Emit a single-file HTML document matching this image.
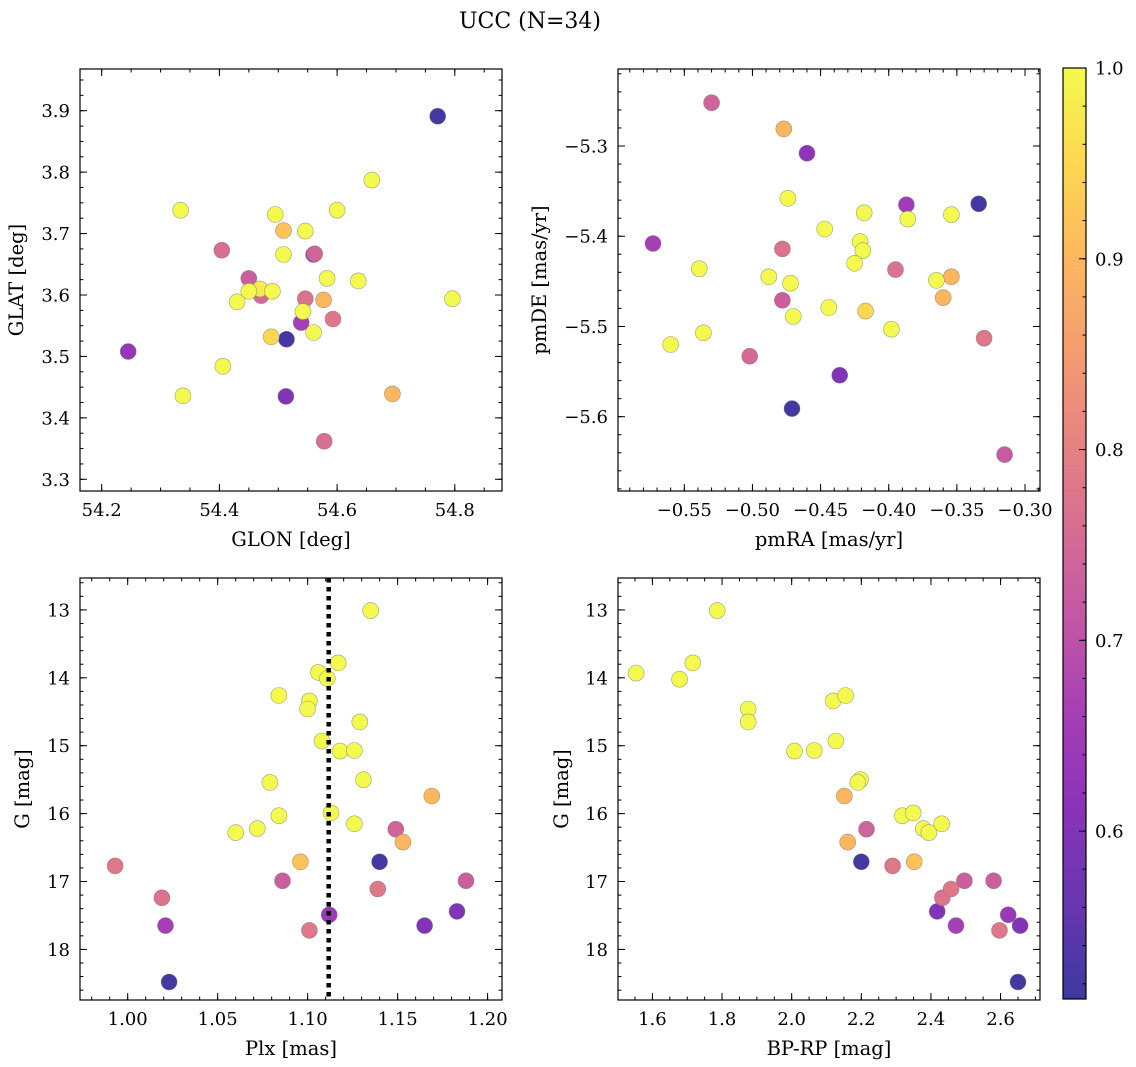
<!DOCTYPE html>
<html><head><meta charset="utf-8">
<style>
html,body{margin:0;padding:0;background:#fff;}
svg{display:block;font-family:"DejaVu Serif","Liberation Serif",serif;}
</style></head>
<body>
<svg id="fig" width="1136" height="1067" viewBox="0 0 1136 1067" xmlns="http://www.w3.org/2000/svg">
<text x="530" y="28" font-size="22" text-anchor="middle">UCC (N=34)</text>
</svg>
<script>
// ---- data (per panel) ----
const tlGlon=[54.771,54.245,54.334,54.338,54.404,54.406,54.430,54.450,54.450,54.469,54.471,54.490,54.488,54.495,54.509,54.509,54.514,54.513,54.539,54.542,54.546,54.546,54.560,54.560,54.562,54.577,54.578,54.583,54.593,54.600,54.636,54.659,54.694,54.796];
const tlGlat=[3.891,3.508,3.738,3.436,3.673,3.484,3.589,3.627,3.606,3.610,3.599,3.606,3.532,3.731,3.705,3.666,3.528,3.435,3.555,3.573,3.704,3.594,3.539,3.666,3.667,3.592,3.362,3.627,3.561,3.738,3.623,3.787,3.439,3.594];
const tlProb=[0.52,0.63,1,1,0.76,1,1,0.73,1,0.98,0.75,1,0.95,1,0.92,1,0.52,0.6,0.66,1,1,0.77,1,0.62,0.74,0.9,0.76,1,0.78,1,1,1,0.9,1];

const trPmra=[-0.530,-0.477,-0.460,-0.474,-0.387,-0.334,-0.418,-0.386,-0.354,-0.447,-0.573,-0.421,-0.419,-0.478,-0.425,-0.539,-0.395,-0.488,-0.472,-0.365,-0.354,-0.360,-0.478,-0.444,-0.417,-0.470,-0.398,-0.536,-0.560,-0.330,-0.502,-0.436,-0.471,-0.315];
const trPmde=[-5.252,-5.281,-5.308,-5.358,-5.365,-5.364,-5.374,-5.381,-5.376,-5.392,-5.408,-5.406,-5.416,-5.414,-5.430,-5.436,-5.437,-5.445,-5.452,-5.449,-5.445,-5.468,-5.471,-5.479,-5.483,-5.489,-5.503,-5.507,-5.520,-5.513,-5.533,-5.554,-5.591,-5.642];
const trProb=[0.74,0.9,0.62,1,0.65,0.52,1,1,1,1,0.66,1,1,0.77,1,1,0.77,1,1,1,0.9,0.9,0.73,1,0.95,1,1,1,1,0.78,0.75,0.6,0.52,0.72];

const blPlx=[1.135,1.117,1.106,1.111,1.084,1.101,1.100,1.129,1.108,1.118,1.126,1.079,1.131,1.169,1.113,1.084,1.126,1.072,1.060,1.149,1.153,1.096,1.140,0.993,1.086,1.188,1.139,1.019,1.112,1.183,1.021,1.165,1.101,1.023];
const blG=[13.01,13.78,13.92,14.01,14.26,14.34,14.46,14.65,14.93,15.08,15.07,15.54,15.50,15.74,15.99,16.03,16.15,16.22,16.28,16.23,16.42,16.71,16.71,16.77,16.99,16.99,17.11,17.24,17.49,17.44,17.65,17.65,17.72,18.48];
const blProb=[1,1,1,1,1,1,1,1,1,1,1,1,1,0.9,1,1,1,1,1,0.74,0.9,0.92,0.52,0.78,0.73,0.73,0.78,0.77,0.64,0.6,0.66,0.6,0.78,0.52];
const plxMedian=1.1117;

const brBprp=[1.553,1.678,1.716,1.786,1.875,1.875,2.008,2.065,2.119,2.155,2.127,2.198,2.190,2.151,2.161,2.215,2.200,2.290,2.318,2.349,2.352,2.378,2.394,2.431,2.458,2.433,2.496,2.418,2.472,2.580,2.597,2.622,2.656,2.650];
const brG=[13.93,14.02,13.78,13.01,14.46,14.65,15.08,15.07,14.34,14.26,14.93,15.50,15.54,15.74,16.42,16.23,16.71,16.77,16.03,15.99,16.71,16.22,16.28,16.15,17.11,17.24,16.99,17.44,17.65,16.99,17.72,17.49,17.65,18.48];
const brProb=[1,1,1,1,1,1,1,1,1,1,1,1,1,0.9,0.9,0.74,0.52,0.78,1,1,0.92,1,1,1,0.78,0.77,0.73,0.6,0.66,0.73,0.78,0.64,0.6,0.52];

const cbTicks=[0.6,0.7,0.8,0.9,1.0];
const VMIN=0.512, VMAX=1.0;

// ---- helpers ----
const NS="http://www.w3.org/2000/svg";
const svg=document.getElementById('fig');
function mk(tag,attrs,parent){const e=document.createElementNS(NS,tag);for(const k in attrs)e.setAttribute(k,attrs[k]);(parent||svg).appendChild(e);return e;}
const PL=[[13,8,135],[65,4,157],[106,0,168],[143,13,164],[177,42,144],[204,71,120],[225,100,98],[242,132,75],[252,166,54],[252,206,37],[240,249,33]];
function plasma(t){t=Math.max(0,Math.min(1,t));const f=t*10,i=Math.min(9,Math.floor(f)),r=f-i;const a=PL[i],b=PL[i+1];return [0,1,2].map(k=>a[k]+(b[k]-a[k])*r);}
function col(p){const c=plasma((p-VMIN)/(VMAX-VMIN));return 'rgb('+c.map(v=>Math.round(v*0.8+255*0.2)).join(',')+')';}
function fmt(v,d){return (v<0?'\u2212':'')+Math.abs(v).toFixed(d);}

function panel(o){
  const g=mk('g',{});
  
  
  const sx=v=>o.x0+(v-o.xmin)/(o.xmax-o.xmin)*(o.x1-o.x0);
  const sy=v=>o.invert? o.y0+(v-o.ymin)/(o.ymax-o.ymin)*(o.y1-o.y0) : o.y1-(v-o.ymin)/(o.ymax-o.ymin)*(o.y1-o.y0);
  const idx=o.xs.map((_,i)=>i).sort((a,b)=>o.ps[a]-o.ps[b]);
  const pg=mk('g',{},g);
  
  
  idx.forEach(i=>{
    const c=mk('circle',{cx:sx(o.xs[i]).toFixed(1),cy:sy(o.ys[i]).toFixed(1),r:8,fill:col(o.ps[i]),stroke:'rgba(120,120,120,0.7)','stroke-width':0.6},pg);
    
    
  });
  if(o.vline!==undefined){
    const l=mk('line',{x1:sx(o.vline),x2:sx(o.vline),y1:o.y0,y2:o.y1,stroke:'#000','stroke-width':4.5,'stroke-dasharray':'4.5 4.5'},g);
    
    
  }
  const tg=mk('g',{stroke:'#000','stroke-width':1},g);
  
  
  const eps=1e-9;
  function ticks(min,max,step){const a=[];for(let v=Math.ceil(min/step-eps)*step;v<=max+eps;v+=step)a.push(Math.round(v/step)*step);return a;}
  ticks(o.xmin,o.xmax,o.xminor).forEach(v=>{const X=sx(v);mk('line',{x1:X,x2:X,y1:o.y1,y2:o.y1-3.5},tg);mk('line',{x1:X,x2:X,y1:o.y0,y2:o.y0+3.5},tg);});
  ticks(o.ymin,o.ymax,o.yminor).forEach(v=>{const Y=sy(v);mk('line',{x1:o.x0,x2:o.x0+3.5,y1:Y,y2:Y},tg);mk('line',{x1:o.x1,x2:o.x1-3.5,y1:Y,y2:Y},tg);});
  ticks(o.xmin,o.xmax,o.xmajor).forEach(v=>{const X=sx(v);mk('line',{x1:X,x2:X,y1:o.y1,y2:o.y1-7},tg);mk('line',{x1:X,x2:X,y1:o.y0,y2:o.y0+7},tg);
    const t=mk('text',{x:X,y:o.y1+25,'font-size':18,'text-anchor':'middle'},g);t.textContent=fmt(v,o.xdec);
    });
  ticks(o.ymin,o.ymax,o.ymajor).forEach(v=>{const Y=sy(v);mk('line',{x1:o.x0,x2:o.x0+7,y1:Y,y2:Y},tg);mk('line',{x1:o.x1,x2:o.x1-7,y1:Y,y2:Y},tg);
    const t=mk('text',{x:o.x0-10,y:Y+6.5,'font-size':18,'text-anchor':'end'},g);t.textContent=fmt(v,o.ydec);
    });
  const fr=mk('rect',{x:o.x0,y:o.y0,width:o.x1-o.x0,height:o.y1-o.y0,fill:'none',stroke:'#000','stroke-width':1.2},g);
  
  const xl=mk('text',{x:(o.x0+o.x1)/2,y:o.y1+55,'font-size':19.5,'text-anchor':'middle'},g);xl.textContent=o.xlabel;
  
  const cy=(o.y0+o.y1)/2;
  const yl=mk('text',{x:o.ylx,y:cy,'font-size':19.5,'text-anchor':'middle',transform:'rotate(-90 '+o.ylx+' '+cy+')'},g);yl.textContent=o.ylabel;
  
}

panel({name:'glon-glat-panel',x0:80,x1:502,y0:69,y1:491,xmin:54.2-21.7/588.5,xmax:54.2+400.3/588.5,ymin:3.3-11.7/614.3,ymax:3.9+41.7/614.3,
  xs:tlGlon,ys:tlGlat,ps:tlProb,xmajor:0.2,xminor:0.05,ymajor:0.1,yminor:0.025,xdec:1,ydec:1,xlabel:'GLON [deg]',ylabel:'GLAT [deg]',ylx:23});
panel({name:'pm-panel',x0:618,x1:1040,y0:69,y1:491,xmin:-0.55-66.3/1362.8,xmax:-0.30+15/1362.8,ymin:-5.6-74.3/902.2,ymax:-5.3+77/902.2,
  xs:trPmra,ys:trPmde,ps:trProb,xmajor:0.05,xminor:0.01,ymajor:0.1,yminor:0.02,xdec:2,ydec:1,xlabel:'pmRA [mas/yr]',ylabel:'pmDE [mas/yr]',ylx:546});
panel({name:'plx-g-panel',x0:80,x1:502,y0:578,y1:1000,xmin:0.9735,xmax:1.208,ymin:12.53,ymax:18.745,invert:true,vline:plxMedian,
  xs:blPlx,ys:blG,ps:blProb,xmajor:0.05,xminor:0.01,ymajor:1,yminor:0.2,xdec:2,ydec:0,xlabel:'Plx [mas]',ylabel:'G [mag]',ylx:29});
panel({name:'cmd-panel',x0:618,x1:1040,y0:578,y1:1000,xmin:1.6-103/1042,xmax:2.6+118/1042,ymin:12.53,ymax:18.745,invert:true,
  xs:brBprp,ys:brG,ps:brProb,xmajor:0.2,xminor:0.05,ymajor:1,yminor:0.2,xdec:1,ydec:0,xlabel:'BP-RP [mag]',ylabel:'G [mag]',ylx:568});

// ---- colorbar ----
(function(){
  const x0=1063,x1=1086,y0=68,y1=999;
  const g=mk('g',{});
  
  
  const defs=mk('defs',{},g);
  const lg=mk('linearGradient',{id:'cbg',x1:0,y1:1,x2:0,y2:0},defs);
  for(let i=0;i<=20;i++){const p=VMIN+(VMAX-VMIN)*i/20;mk('stop',{offset:(i/20),'stop-color':col(p)},lg);}
  mk('rect',{x:x0,y:y0,width:x1-x0,height:y1-y0,fill:'url(#cbg)',stroke:'#000','stroke-width':1.2},g);
  const sy=v=>y1-(v-VMIN)/(VMAX-VMIN)*(y1-y0);
  for(let v=0.52;v<=1.0001;v+=0.02){const Y=sy(v);mk('line',{x1:x1,x2:x1-3.5,y1:Y,y2:Y,stroke:'#000'},g);}
  cbTicks.forEach(v=>{const Y=sy(v);mk('line',{x1:x1,x2:x1-7,y1:Y,y2:Y,stroke:'#000'},g);
    const t=mk('text',{x:x1+9,y:Y+6.5,'font-size':18},g);t.textContent=v.toFixed(1);
    });
})();
</script>
</body></html>
